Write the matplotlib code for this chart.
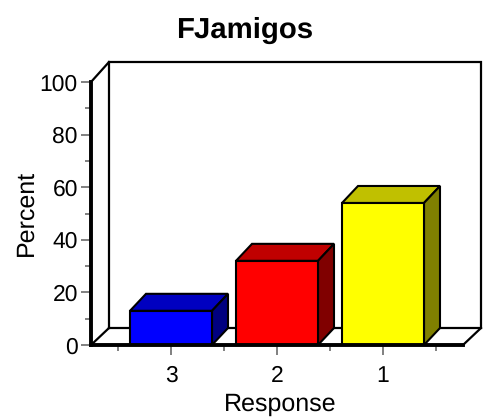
import matplotlib
matplotlib.use('Agg')
import matplotlib.pyplot as plt
from matplotlib.patches import Polygon

plt.rcParams['font.family'] = ['Liberation Sans', 'DejaVu Sans']
plt.rcParams['text.hinting'] = 'no_hinting'

categories = ['3', '2', '1']
percent = [13, 32, 54]
front_colors = ['#0000ff', '#ff0000', '#ffff00']
top_colors = ['#0000c0', '#c00000', '#c0c000']
side_colors = ['#000080', '#800000', '#808000']

W, H = 488, 417
fig = plt.figure(figsize=(W / 100, H / 100), dpi=100, facecolor='white')
ax = fig.add_axes([91 / W, (H - 345) / H, 372 / W, 263 / H])

# one category = 106 px, 100 percent = 263 px
xmin, xmax = -80 / 106, 292 / 106
ax.set_xlim(xmin, xmax)
ax.set_ylim(0, 100)
ax.patch.set_alpha(0)

px = 1 / 106
py = 100 / 263
wall_dx = 18 * px
wall_dy = 17 * py
wall_top_dy = 20 * py
bar_dx = 16 * px
bar_dy = 17 * py
bar_w = 82 * px

# back wall and floor outline
wall_x = [xmin + wall_dx, xmax + wall_dx, xmax + wall_dx, xmin + wall_dx, xmin + wall_dx]
wall_y = [wall_dy, wall_dy, 100 + wall_top_dy, 100 + wall_top_dy, wall_dy]
ax.plot(wall_x, wall_y, color='black', lw=1.6, clip_on=False, zorder=1, solid_joinstyle='miter')
ax.plot([xmin, xmin + wall_dx], [100, 100 + wall_top_dy], color='black', lw=1.6, clip_on=False, zorder=1)
ax.plot([xmin, xmin + wall_dx], [0, wall_dy], color='black', lw=1.6, clip_on=False, zorder=1)
ax.plot([xmax, xmax + wall_dx], [0, wall_dy], color='black', lw=1.6, clip_on=False, zorder=1)

# bars
xs = list(range(len(categories)))
ax.bar(xs, percent, width=bar_w, color=front_colors, edgecolor='black', linewidth=1.5, zorder=4)
for x, v, tc, sc in zip(xs, percent, top_colors, side_colors):
    l, r = x - bar_w / 2, x + bar_w / 2
    ax.add_patch(Polygon([(l, v), (r, v), (r + bar_dx, v + bar_dy), (l + bar_dx, v + bar_dy)],
                         facecolor=tc, edgecolor='black', lw=1.5, zorder=3, clip_on=False))
    ax.add_patch(Polygon([(r, 0), (r, v), (r + bar_dx, v + bar_dy), (r + bar_dx, bar_dy)],
                         facecolor=sc, edgecolor='black', lw=1.5, zorder=3, clip_on=False))

for side in ['top', 'right']:
    ax.spines[side].set_visible(False)
for side in ['left', 'bottom']:
    ax.spines[side].set_linewidth(2.8)
    ax.spines[side].set_zorder(5)

ax.set_xticks(xs, categories)
ax.set_xticks([-0.5, 0.5, 1.5, 2.5], minor=True)
ax.set_yticks(range(0, 101, 20))
ax.set_yticks(range(10, 100, 20), minor=True)
ax.tick_params(axis='both', which='major', length=7.5, width=1.4, color='#808080', labelsize=16.5, pad=2)
ax.tick_params(axis='x', which='major', pad=7)
ax.tick_params(axis='both', which='minor', length=4.5, width=1.4, color='#808080')

fig.text(244.5 / W, 1 - 30 / H, 'FJamigos', fontsize=21.2, fontweight='bold', ha='center', va='center')
fig.text(26 / W, 1 - 213 / H, 'Percent', fontsize=18, rotation=90, ha='center', va='center')
fig.text(280 / W, 1 - 404 / H, 'Response', fontsize=18, ha='center', va='center')

fig.savefig('out.png', dpi=100)
